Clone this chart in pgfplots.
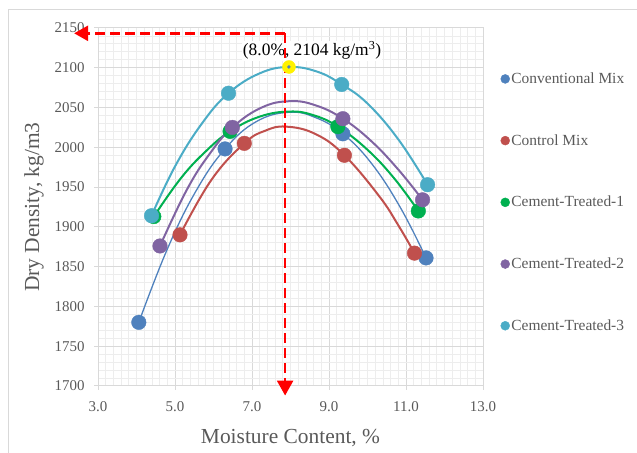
\documentclass[border=0pt]{standalone}
\usepackage{fontspec}
\setmainfont{Liberation Serif}
\usepackage{pgfplots}
\pgfplotsset{compat=1.18}
\usetikzlibrary{arrows.meta}
\definecolor{cblue}{HTML}{4F81BD}
\definecolor{cred}{HTML}{C0504D}
\definecolor{cgreen}{HTML}{00B050}
\definecolor{cpurple}{HTML}{8064A2}
\definecolor{ccyan}{HTML}{4BACC6}
\definecolor{gridmaj}{HTML}{D9D9D9}
\definecolor{gridmin}{HTML}{EDEDED}
\definecolor{tickgray}{HTML}{595959}
\begin{document}
\begin{tikzpicture}[x=1bp,y=1bp]
\path[use as bounding box] (0,0) rectangle (637,453);
\draw[gridmaj, line width=1bp] (8,0) -- (8,443) -- (637,443);
\begin{axis}[
  at={(98bp,67bp)}, anchor=south west,
  scale only axis, width=385bp, height=358bp,
  xmin=3, xmax=13, ymin=1700, ymax=2150,
  xtick={3,5,7,9,11,13}, ytick={1700,1750,...,2150},
  minor x tick num=9, minor y tick num=4,
  grid=both,
  major grid style={gridmaj, line width=1bp},
  minor grid style={gridmin, line width=0.8bp},
  axis line style={gridmaj, line width=1bp},
  tick style={gridmaj, line width=1bp},
  tick align=outside, major tick length=4bp, minor tick length=0bp,
  xtick pos=bottom, ytick pos=left,
  clip=false,
  /pgf/number format/assume math mode=true,
  ticklabel style={font=\fontsize{15}{18}\selectfont, text=tickgray},
  xticklabel style={yshift=-8bp, /pgf/number format/.cd, fixed, fixed zerofill, precision=1},
  yticklabel style={xshift=-6bp, /pgf/number format/.cd, fixed, 1000 sep={}},
  xlabel={Moisture Content, \%},
  ylabel={Dry Density, kg/m3},
  xlabel style={at={(axis description cs:0.5,-0.145)}, anchor=center, font=\fontsize{21.5}{24}\selectfont, text=tickgray},
  ylabel style={at={(axis description cs:-0.166,0.5)}, anchor=center, font=\fontsize{21.5}{24}\selectfont, text=tickgray},
  legend image code/.code={\fill[#1] (0bp,0bp) circle (4.5bp);},
  legend style={at={(1.045,0.513)}, anchor=west, draw=none, fill=none, inner sep=0pt,
    font=\fontsize{15.5}{18}\selectfont, text=tickgray, row sep=46.5bp,
    nodes={inner sep=1.5bp}},
  legend cell align=left,
]
% trend curves
\addplot[cblue, line width=1.3bp, smooth, tension=0.7, forget plot] coordinates {(4.06,1780)(4.8,1872)(5.55,1945.5)(6.30,1998)(7.1,2032)(7.95,2044)(8.65,2037.4)(9.36,2017)(10.1,1980)(10.85,1924.6)(11.52,1861)};
\addplot[cred, line width=2bp, smooth, tension=0.7, forget plot] coordinates {(5.13,1890)(5.95,1959.4)(6.80,2005)(7.35,2021)(7.89,2026)(8.65,2016.7)(9.40,1990)(10.3,1938.8)(10.8,1902)(11.22,1867)};
\addplot[cgreen, line width=2bp, smooth, tension=0.7, forget plot] coordinates {(4.45,1913)(5.15,1961)(5.8,1995)(6.43,2020)(7.2,2038.6)(7.98,2045)(8.6,2040.3)(9.23,2026)(10.0,1996.9)(10.7,1960.6)(11.32,1920)};
\addplot[cpurple, line width=2bp, smooth, tension=0.7, forget plot] coordinates {(4.61,1876)(5.3,1946)(5.9,1991.8)(6.49,2025)(7.25,2050)(7.98,2058)(8.65,2052.8)(9.36,2036)(10.1,2007.7)(10.8,1972)(11.43,1934)};
\addplot[ccyan, line width=2bp, smooth, tension=0.7, forget plot] coordinates {(4.39,1914)(5.0,1976)(5.7,2030)(6.39,2068)(7.2,2093)(7.96,2101)(8.7,2095)(9.33,2079)(10.0,2055)(10.8,2010)(11.56,1953)};
% data points
\addplot[color=cblue, only marks, mark=*, mark size=7.3bp, mark options={solid}, forget plot] coordinates {(4.06,1780)(6.30,1998)(9.36,2017)(11.52,1861)};
\addplot[color=cred, only marks, mark=*, mark size=7.3bp, mark options={solid}, forget plot] coordinates {(5.13,1890)(6.80,2005)(9.40,1990)(11.22,1867)};
\addplot[color=cgreen, only marks, mark=*, mark size=7.3bp, mark options={solid}, forget plot] coordinates {(4.45,1913)(6.43,2020)(9.23,2026)(11.32,1920)};
\addplot[color=cpurple, only marks, mark=*, mark size=7.3bp, mark options={solid}, forget plot] coordinates {(4.61,1876)(6.49,2025)(9.36,2036)(11.43,1934)};
\addplot[color=ccyan, only marks, mark=*, mark size=7.3bp, mark options={solid}, forget plot] coordinates {(4.39,1914)(6.39,2068)(9.33,2079)(11.56,1953)};
\addlegendimage{cblue}\addlegendentry{Conventional Mix}
\addlegendimage{cred}\addlegendentry{Control Mix}
\addlegendimage{cgreen}\addlegendentry{Cement-Treated-1}
\addlegendimage{cpurple}\addlegendentry{Cement-Treated-2}
\addlegendimage{ccyan}\addlegendentry{Cement-Treated-3}
% annotation
\node[fill=white, inner sep=1bp, font=\fontsize{17.5}{20}\selectfont] at (axis cs:8.56,2121.5) {(8.0\%, 2104 kg/m\textsuperscript{3})};
\draw[red, line width=2.6bp, dash pattern=on 10bp off 5bp, -{Triangle[length=14bp,width=15bp]}] (axis cs:7.86,2143.3) -- (axis cs:2.38,2143.3);
\draw[red, line width=2.6bp, dash pattern=on 10bp off 5bp, -{Triangle[length=15bp,width=16bp]}] (axis cs:7.86,2143.3) -- (axis cs:7.86,1688);
\addplot[color=yellow, only marks, mark=*, mark size=6.5bp, mark options={solid}, forget plot] coordinates {(7.96,2101)};
\addplot[color=cblue, only marks, mark=*, mark size=1.5bp, mark options={solid}, forget plot] coordinates {(7.96,2101)};
\end{axis}
\end{tikzpicture}
\end{document}
